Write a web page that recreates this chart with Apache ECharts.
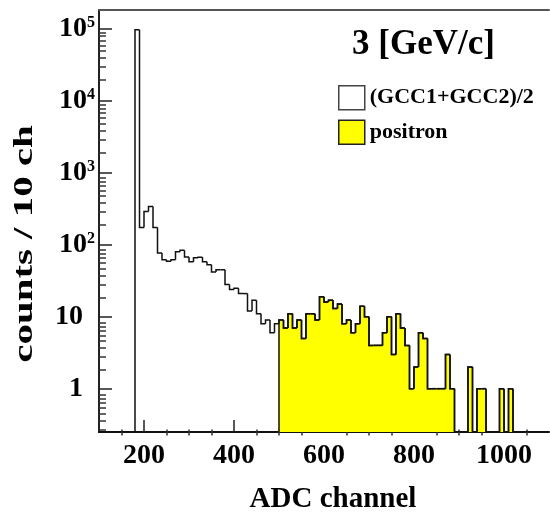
<!DOCTYPE html>
<html><head><meta charset="utf-8">
<script src="https://cdn.jsdelivr.net/npm/echarts@6/dist/echarts.min.js"></script>
<style>html,body{margin:0;padding:0;background:#fff}#c{width:550px;height:519px}</style>
</head><body><div id="c"></div>
<script>
// ---- data ----
const binWidth = 10;
const binLow = [100,110,120,130,140,150,160,170,180,190,200,210,220,230,240,250,260,270,280,290,
  300,310,320,330,340,350,360,370,380,390,400,410,420,430,440,450,460,470,480,490,
  500,510,520,530,540,550,560,570,580,590,600,610,620,630,640,650,660,670,680,690,
  700,710,720,730,740,750,760,770,780,790,800,810,820,830,840,850,860,870,880,890,
  900,910,920,930,940,950,960,970,980,990,1000,1010,1020,1030,1040,1050,1060,1070,1080,1090];
const totalCounts = [0,0,0,0,0,0,0,0,98000,174,290,340,174,77,62,59,62,80,84,68,
  58,66,67,58,53,42,45,45,28,24,25,21,21,12,17,11,8,9,6,8,
  9,7,11,7,9,5,11,11,9,19,16,17,13,15,8,9,6,8,14,10,
  4,4,4,6,10,3,11,7,4,1,2,6,5,1,1,1,1,3,1,0,
  0,0,2,0,1,1,0,0,0,1,0,1,0,0,0,0,0,0,0,0];
const positronBinLow = [500,510,520,530,540,550,560,570,580,590,600,610,620,630,640,650,660,670,680,690,
  700,710,720,730,740,750,760,770,780,790,800,810,820,830,840,850,860,870,880,890,
  900,910,920,930,940,950,960,970,980,990,1000,1010,1020,1030,1040,1050,1060,1070,1080,1090];
const positronCounts = [9,7,11,7,9,5,11,11,9,19,16,17,13,15,8,9,6,8,14,10,
  4,4,4,6,10,3,11,7,4,1,2,6,5,1,1,1,1,3,1,0,
  0,0,2,0,1,1,0,0,0,1,0,1,0,0,0,0,0,0,0,0];
const xTickValues = [200,400,600,800,1000];
const xTickLabels = ['200','400','600','800','1000'];
const yTickValues = [1,10,100,1000,10000,100000];
const yTickBase = ['1','10','10','10','10','10'];
const yTickExp = ['','','2','3','4','5'];
const totalName = '(GCC1+GCC2)/2';
const positronName = 'positron';
const yTitle = 'counts / 10 ch';

// ---- helpers ----
function histItems(lows, counts){
  return lows.map((x, i) => [x, x + binWidth, counts[i], i > 0 ? counts[i-1] : 0, i === lows.length - 1 ? 1 : 0]);
}
const xMinor = []; for (let v = 150; v < 1100; v += 50) if (v % 200 !== 0) xMinor.push(v);
const yMinor = []; for (let k = -1; k <= 5; k++) for (let m = 2; m <= 9; m++) { const v = m * Math.pow(10, k); if (v >= 0.25 && v <= 184000) yMinor.push(+v.toPrecision(3)); }

const FONT = 'Liberation Serif';
function makeRender(fill){
  return function(params, api){
    const cs = params.coordSys; const base = cs.y + cs.height;
    const x0 = api.value(0), x1 = api.value(1), v = api.value(2), pv = api.value(3), last = api.value(4);
    const yOf = val => val > 0 ? api.coord([x0, val])[1] : base;
    const px0 = api.coord([x0, 1])[0], px1 = api.coord([x1, 1])[0];
    const y = yOf(v), py = yOf(pv);
    const children = [];
    if (fill && v > 0) children.push({type:'rect', shape:{x:px0, y:y, width:px1-px0, height:base-y}, style:{fill:'#ffff00', stroke:'#ffff00', lineWidth:0.8}});
    const pts = [[px0, py],[px0, y],[px1, y]];
    if (last) pts.push([px1, base]);
    children.push({type:'polyline', shape:{points:pts}, style:{stroke:'#111', lineWidth:1.5, fill:null}});
    return {type:'group', children};
  };
}

const gridRect = {left:99, top:10, width:450, height:425.5, containLabel:false};
const chart = echarts.init(document.getElementById('c'), null, {renderer:'canvas'});
chart.setOption({
  animation:false,
  backgroundColor:'#fff',
  title:{text:'3 [GeV/c]', left:352, top:27, padding:0, textStyle:{fontFamily:FONT, fontWeight:'bold', fontSize:35, color:'#000'}},
  legend:{orient:'vertical', left:338, top:85, padding:0, itemWidth:26, itemHeight:24, itemGap:9,
    textStyle:{fontFamily:FONT, fontWeight:'bold', fontSize:22, color:'#000'},
    data:[
      {name:totalName, icon:'rect', itemStyle:{color:'#fff', borderColor:'#444', borderWidth:1.5}},
      {name:positronName, icon:'rect', itemStyle:{color:'#ffff00', borderColor:'#222', borderWidth:1.5}}
    ]},
  graphic:[{type:'text', x:25, y:244, rotation:Math.PI/2, scaleX:1.46,
    style:{text:yTitle, fontFamily:FONT, fontWeight:'bold', fontSize:28, fill:'#000', align:'center', verticalAlign:'middle'}}],
  grid:[Object.assign({}, gridRect), Object.assign({}, gridRect)],
  xAxis:[
    {type:'value', gridIndex:0, min:100, max:1100, position:'bottom',
      axisLine:{show:true, onZero:false, lineStyle:{color:'#111', width:2}},
      axisTick:{show:true, inside:true, length:12, customValues:xTickValues, lineStyle:{color:'#222', width:1.5}},
      axisLabel:{customValues:xTickValues, margin:10, formatter:v => xTickLabels[xTickValues.indexOf(v)] ?? String(v),
        fontFamily:FONT, fontWeight:'bold', fontSize:28, color:'#000'},
      splitLine:{show:false},
      name:'ADC channel', nameLocation:'middle', nameGap:53,
      nameTextStyle:{fontFamily:FONT, fontWeight:'bold', fontSize:29, color:'#000', padding:[0,0,0,18]}},
    {type:'value', gridIndex:0, min:100, max:1100, position:'top',
      axisLine:{show:true, onZero:false, lineStyle:{color:'#555', width:2}}, axisLabel:{show:false}, axisTick:{show:false}, splitLine:{show:false}},
    {type:'value', gridIndex:1, min:100, max:1100, position:'bottom',
      axisLine:{show:false}, axisLabel:{show:false}, splitLine:{show:false},
      axisTick:{show:true, inside:true, length:6, customValues:xMinor, lineStyle:{color:'#333', width:1.5}}}
  ],
  yAxis:[
    {type:'log', gridIndex:0, logBase:10, min:0.25, max:184000, position:'left',
      axisLine:{show:true, onZero:false, lineStyle:{color:'#222', width:2}},
      axisTick:{show:true, inside:true, length:13, customValues:yTickValues, lineStyle:{color:'#222', width:1.5}},
      axisLabel:{customValues:yTickValues, margin:4,
        formatter:function(v){
          let idx = 0, best = 1e9;
          yTickValues.forEach((t,i)=>{const d=Math.abs(Math.log10(t)-Math.log10(v)); if(d<best){best=d;idx=i;}});
          return yTickExp[idx] ? '{b|' + yTickBase[idx] + '}{s|' + yTickExp[idx] + '}' : '{n|' + yTickBase[idx] + '}';
        },
        rich:{
          b:{fontFamily:FONT, fontWeight:'bold', fontSize:28, lineHeight:28, padding:[10,0,10,0], color:'#000'},
          n:{fontFamily:FONT, fontWeight:'bold', fontSize:28, lineHeight:28, padding:[10,12,10,0], color:'#000'},
          s:{fontFamily:FONT, fontWeight:'bold', fontSize:16, lineHeight:16, verticalAlign:'top', color:'#000'}
        }},
      splitLine:{show:false}},
    {type:'log', gridIndex:1, logBase:10, min:0.25, max:184000, position:'left',
      axisLine:{show:false}, axisLabel:{show:false}, splitLine:{show:false},
      axisTick:{show:true, inside:true, length:7, customValues:yMinor, lineStyle:{color:'#333', width:1.5}}}
  ],
  series:[
    {name:positronName, type:'custom', xAxisIndex:0, yAxisIndex:0, z:2, clip:true,
      encode:{x:[0,1], y:2}, itemStyle:{color:'#ffff00'},
      renderItem:makeRender(true), data:histItems(positronBinLow, positronCounts)},
    {name:totalName, type:'custom', xAxisIndex:0, yAxisIndex:0, z:3, clip:true,
      encode:{x:[0,1], y:2}, itemStyle:{color:'#fff'},
      renderItem:makeRender(false), data:histItems(binLow, totalCounts)}
  ]
});
</script></body></html>
